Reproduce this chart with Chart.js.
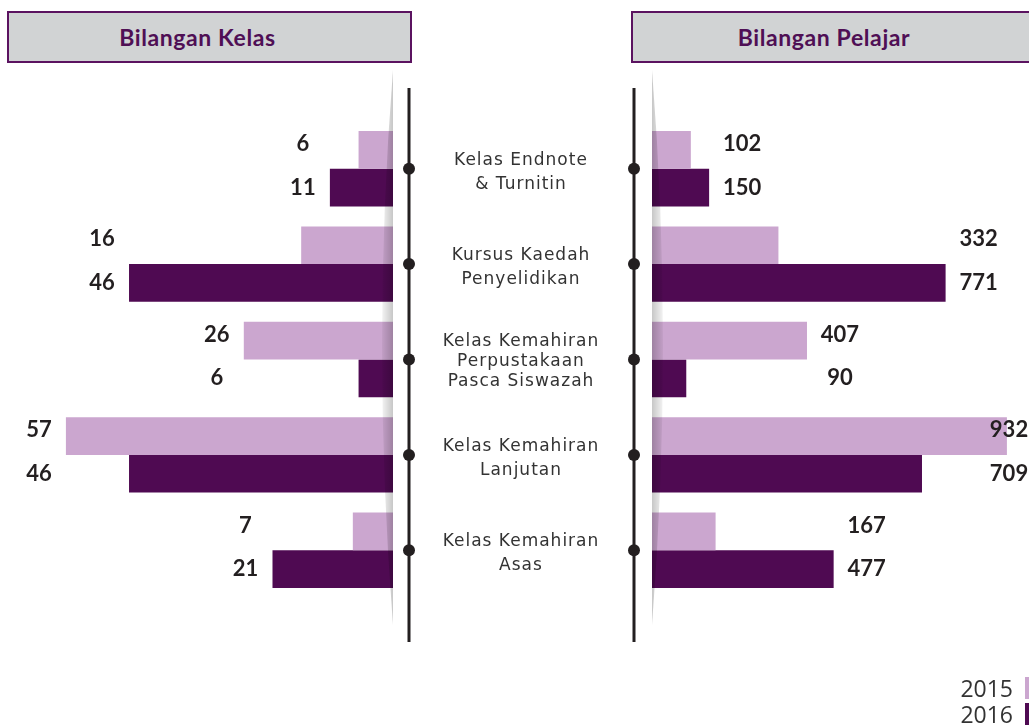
<!DOCTYPE html>
<html>
<head>
<meta charset="utf-8">
<script src="https://cdn.jsdelivr.net/npm/chart.js@4"></script>
<style>
  body { margin: 0; background: #fff; width: 1029px; height: 728px; overflow: hidden; position: relative; font-family: "DejaVu Sans", sans-serif; }
  canvas { position: absolute; top: 0; }
  .header { position: absolute; top: 11px; height: 52px; box-sizing: border-box; border: 2px solid #5b1360; background: #d1d3d4; padding-right: 24px;
            color: #4f0f55; font-family: Lato, sans-serif; font-weight: bold; font-size: 23px; letter-spacing: 0.6px; line-height: 48px; text-align: center; }
  .kat { position: absolute; left: 416px; width: 210px; text-align: center; color: #333; font-size: 17px; letter-spacing: 1px; }
  .leg { position: absolute; right: 16px; font-size: 23px; color: #333; line-height: 26px; font-family: "Open Sans", sans-serif; }
  .legbar { position: absolute; left: 1025px; width: 5px; height: 22px; }
</style>
</head>
<body>
<div class="header" style="left:7px; width:405px;">Bilangan Kelas</div>
<div class="header" style="left:631px; width:410px;">Bilangan Pelajar</div>
<canvas id="kiri" width="420" height="728" style="left:0"></canvas>
<canvas id="kanan" width="409" height="728" style="left:620px"></canvas>
<div id="labels"></div>
<div id="legend"></div>
<script>
const categories = [
  ['Kelas Endnote', '& Turnitin'],
  ['Kursus Kaedah', 'Penyelidikan'],
  ['Kelas Kemahiran', 'Perpustakaan', 'Pasca Siswazah'],
  ['Kelas Kemahiran', 'Lanjutan'],
  ['Kelas Kemahiran', 'Asas']
];
const years = ['2015', '2016'];
const kelas2015 = [6, 16, 26, 57, 7];
const kelas2016 = [11, 46, 6, 46, 21];
const pelajar2015 = [102, 332, 407, 932, 167];
const pelajar2016 = [150, 771, 90, 709, 477];

const warna = ['#cba6cf', '#4f0a52'];

// label nilai di hujung bar
const nilaiPlugin = {
  id: 'nilai',
  afterDatasetsDraw(chart, args, opts) {
    const ctx = chart.ctx;
    const m0 = chart.getDatasetMeta(0), m1 = chart.getDatasetMeta(1);
    ctx.save();
    ctx.font = 'bold 22px Lato, sans-serif';
    ctx.fillStyle = '#231f20';
    ctx.textAlign = 'center';
    ctx.textBaseline = 'middle';
    m0.data.forEach((b0, i) => {
      const b1 = m1.data[i];
      let cx;
      if (opts.side === 'left') {
        cx = Math.min(b0.x, b1.x) - 27;
      } else {
        cx = Math.min(Math.max(b0.x, b1.x) + 33, chart.width - 20);
      }
      ctx.fillText(chart.data.datasets[0].data[i], cx, b0.y - 6);
      ctx.fillText(chart.data.datasets[1].data[i], cx, b1.y);
    });
    ctx.restore();
  }
};

// bayang kelabu dan garis tegak dengan titik
const hiasanPlugin = {
  id: 'hiasan',
  afterDatasetsDraw(chart, args, opts) {
    const ctx = chart.ctx;
    const area = chart.chartArea;
    const y = chart.scales.y;
    const left = opts.side === 'left';
    const base = left ? area.right : area.left;
    const dir = left ? -1 : 1;
    ctx.save();
    const g = ctx.createLinearGradient(base + dir * 14, 0, base, 0);
    g.addColorStop(0, 'rgba(0,0,0,0)');
    g.addColorStop(1, 'rgba(0,0,0,0.22)');
    ctx.fillStyle = g;
    ctx.beginPath();
    ctx.moveTo(base, 70);
    ctx.quadraticCurveTo(base + dir * 22, 345, base, 625);
    ctx.closePath();
    ctx.fill();

    const lx = left ? 409 : 14;
    ctx.strokeStyle = '#231f20';
    ctx.lineWidth = 3;
    ctx.beginPath();
    ctx.moveTo(lx, 88);
    ctx.lineTo(lx, 642);
    ctx.stroke();
    ctx.fillStyle = '#231f20';
    categories.forEach((c, i) => {
      ctx.beginPath();
      ctx.arc(lx, y.getPixelForValue(i), 6, 0, Math.PI * 2);
      ctx.fill();
    });
    ctx.restore();
  }
};

function buatChart(id, d15, d16, side, max, padding) {
  return new Chart(document.getElementById(id), {
    type: 'bar',
    data: {
      labels: categories.map(c => c.join(' ')),
      datasets: [
        { label: years[0], data: d15, backgroundColor: warna[0] },
        { label: years[1], data: d16, backgroundColor: warna[1] }
      ]
    },
    options: {
      indexAxis: 'y',
      responsive: false,
      animation: false,
      devicePixelRatio: 1,
      categoryPercentage: 0.79,
      barPercentage: 1,
      layout: { padding: padding },
      scales: {
        x: { display: false, min: 0, max: max, reverse: side === 'left' },
        y: { display: false }
      },
      plugins: {
        legend: { display: false },
        tooltip: { enabled: false },
        nilai: { side: side },
        hiasan: { side: side }
      }
    },
    plugins: [hiasanPlugin, nilaiPlugin]
  });
}

const kiri = buatChart('kiri', kelas2015, kelas2016, 'left', 65, { left: 20, right: 27, top: 121, bottom: 130 });
const kanan = buatChart('kanan', pelajar2015, pelajar2016, 'right', 990, { left: 32, right: 0, top: 121, bottom: 130 });

// label kategori di tengah
const box = document.getElementById('labels');
categories.forEach((c, i) => {
  const d = document.createElement('div');
  d.className = 'kat';
  d.innerHTML = c.join('<br>');
  const lh = c.length > 2 ? 20 : 24;
  d.style.lineHeight = lh + 'px';
  const yc = kiri.scales.y.getPixelForValue(i) + (c.length > 2 ? 0 : 2);
  d.style.top = (yc - c.length * lh / 2) + 'px';
  box.appendChild(d);
});

// legenda
const leg = document.getElementById('legend');
years.forEach((t, i) => {
  const yc = 688 + i * 26;
  const s = document.createElement('div');
  s.className = 'leg';
  s.style.top = (yc - 13) + 'px';
  s.textContent = t;
  leg.appendChild(s);
  const b = document.createElement('div');
  b.className = 'legbar';
  b.style.top = (yc - 11) + 'px';
  b.style.background = warna[i];
  leg.appendChild(b);
});
</script>
</body>
</html>
